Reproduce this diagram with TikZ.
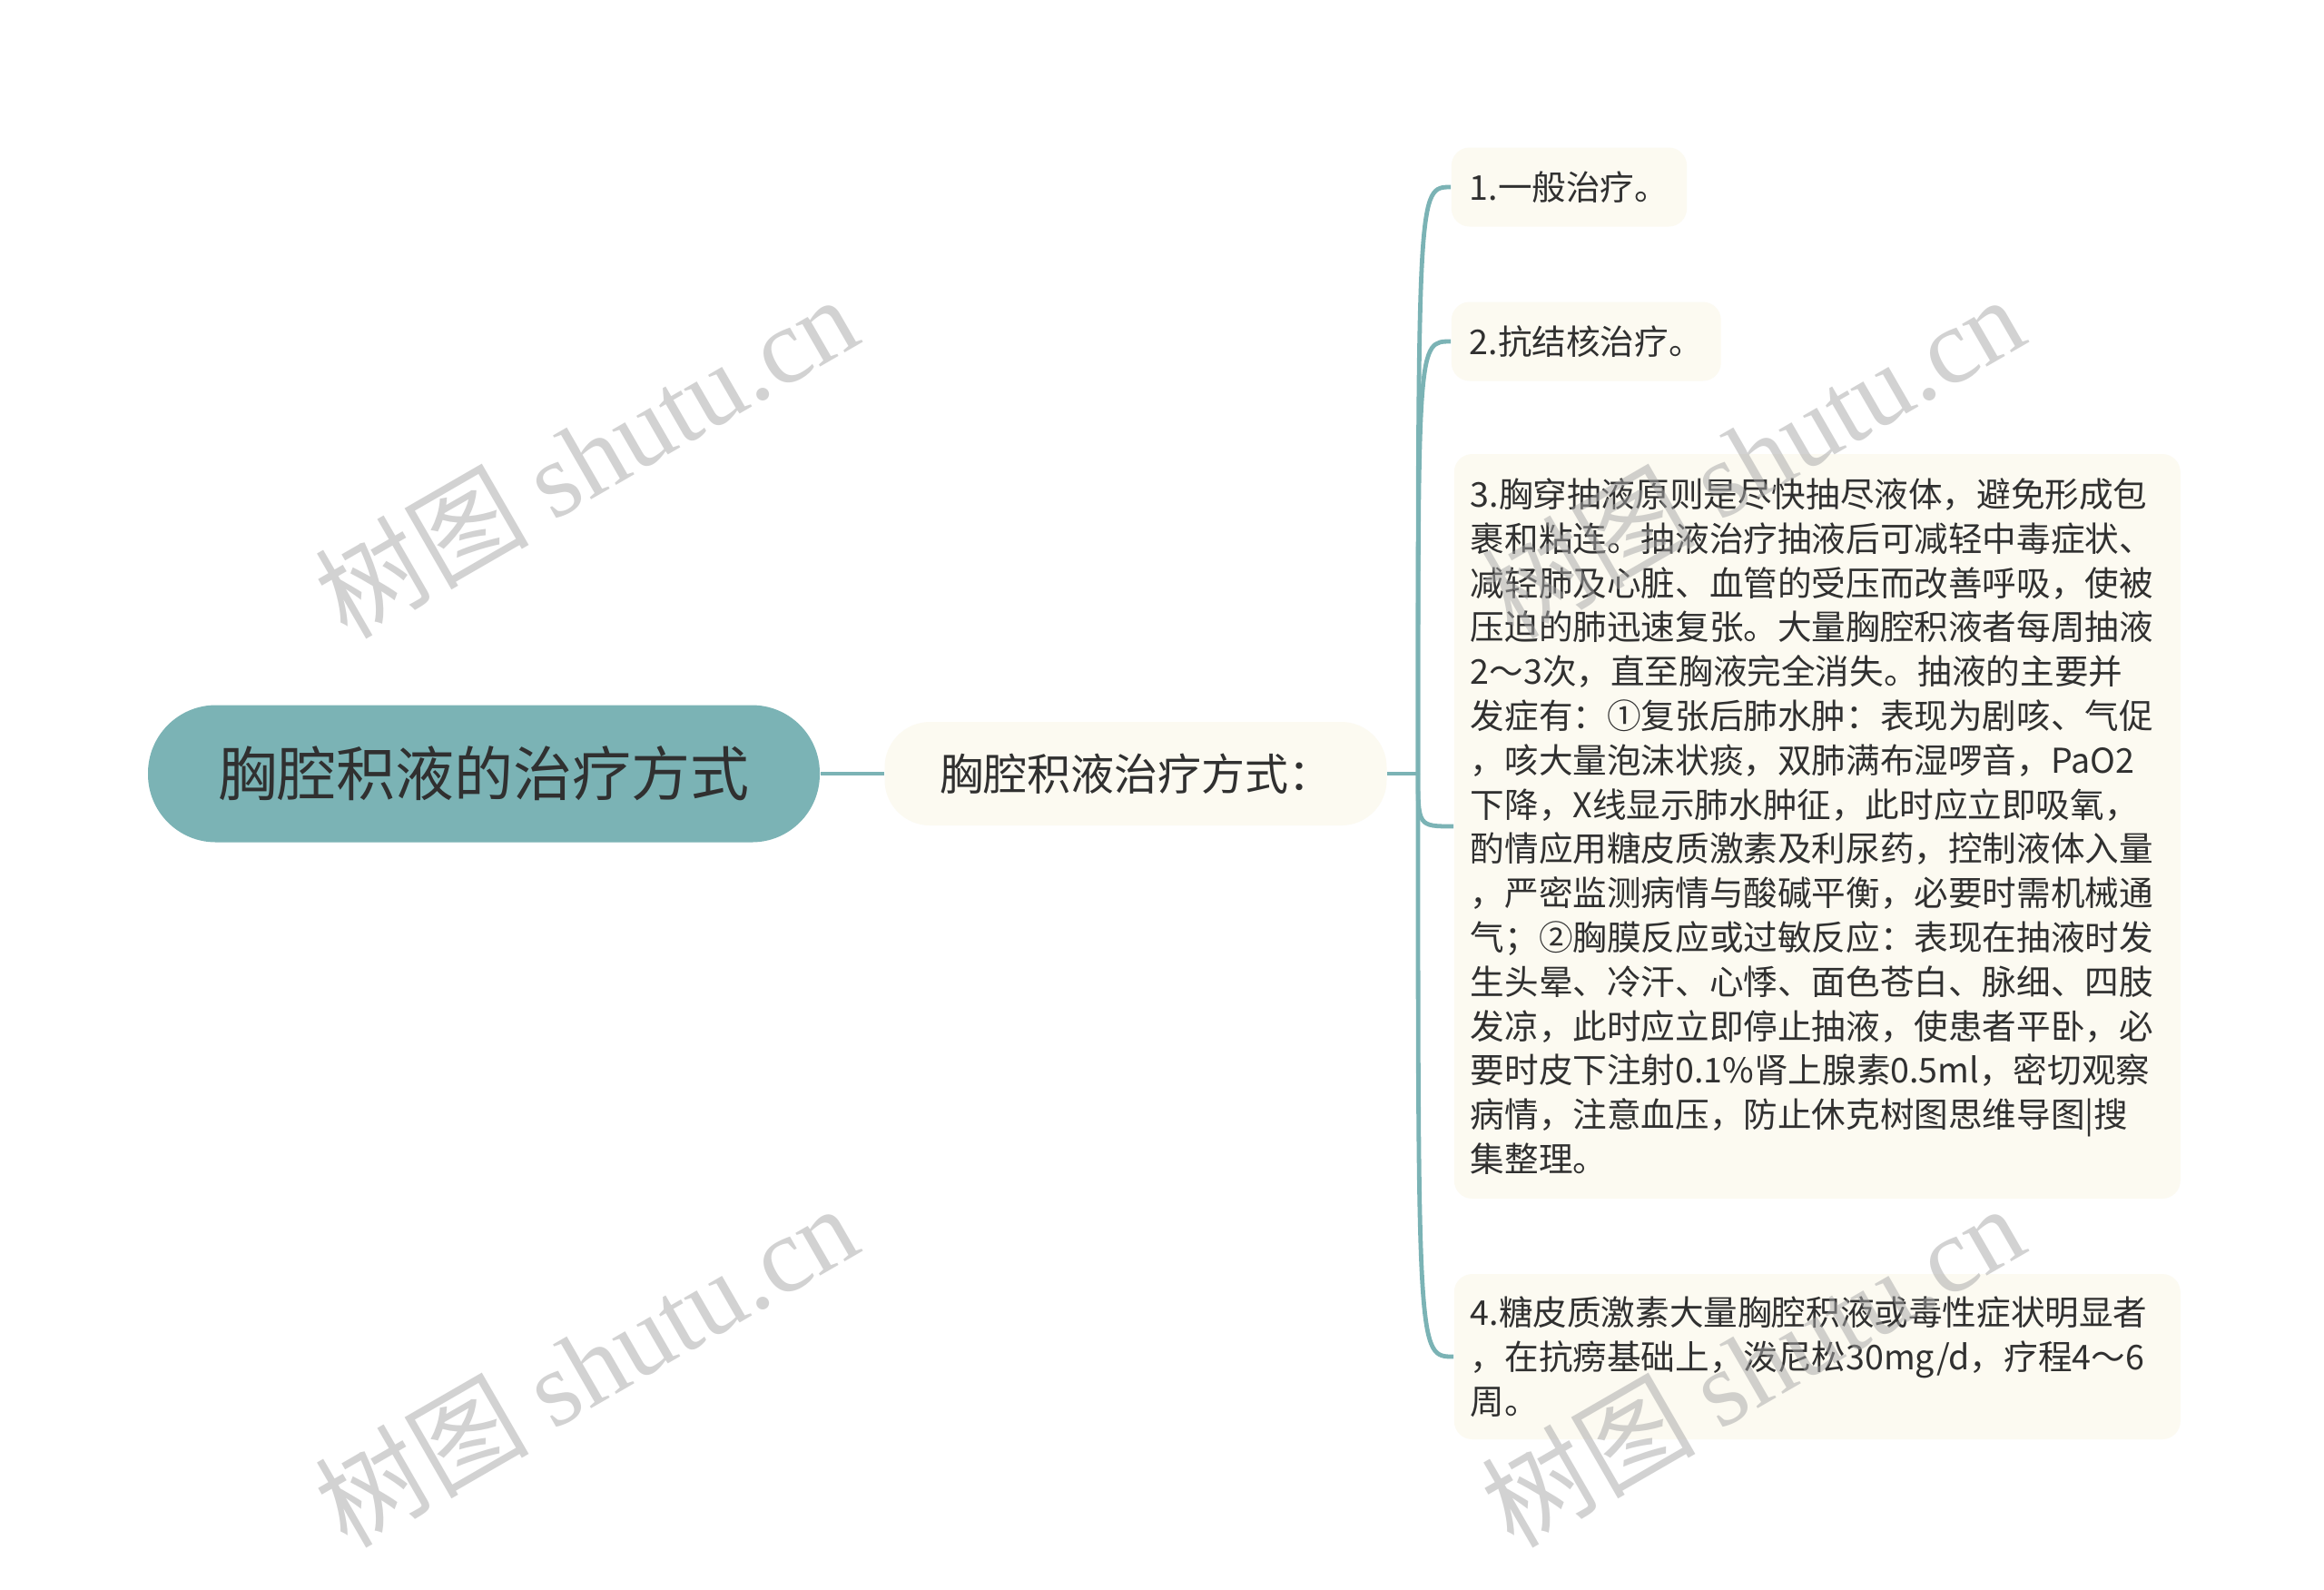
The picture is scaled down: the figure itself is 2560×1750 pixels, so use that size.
\documentclass[tikz,border=0pt]{standalone}
\usepackage{fontspec}
\setmainfont{Noto Sans CJK SC}
\newfontfamily\wmserif{Liberation Serif}
\definecolor{tealline}{HTML}{7BB3B5}
\definecolor{cream}{HTML}{FCFAF1}
\definecolor{ink}{HTML}{303030}

\begin{document}
\begin{tikzpicture}[x=0.25pt, y=-0.25pt,
  link/.style={draw=tealline, line width=1.2pt},
  rootbox/.style={fill=tealline, rounded corners=18.7pt, minimum width=185pt, minimum height=37.75pt, inner sep=0pt, text=ink, font=\fontsize{16.25pt}{20pt}\selectfont},
  midbox/.style={fill=cream, rounded corners=12.5pt, minimum width=138.25pt, minimum height=28.5pt, inner sep=0pt, text=ink, font=\fontsize{12pt}{14pt}\selectfont},
  leafbox/.style={fill=cream, rounded corners=5pt, inner xsep=5pt, inner ysep=0pt, minimum height=21.75pt, anchor=west, text=ink, align=left, font=\fontsize{9.4pt}{12.2pt}\selectfont},
  wmark/.style={text=black!35, opacity=.5, rotate=30, inner sep=0pt, font=\fontsize{29.5pt}{30pt}\selectfont}
]

\useasboundingbox [fill=white] (0,0) rectangle (2560,1750);

% main nodes
\node [rootbox] (root) at (533,852) {胸腔积液的治疗方式};
\node [midbox] (mid) at (1251,852) {胸腔积液治疗方式：};
\coordinate (fork) at (1562,852);

% leaves
\node [leafbox] (t1) at (1598,206) {1.一般治疗。};
\node [leafbox] (t2) at (1598,376) {2.抗结核治疗。};
\node [leafbox, inner xsep=4.5pt, text width=191pt, minimum height=205pt] (t3) at (1601,910) {3.胸穿抽液原则是尽快抽尽液体，避免形成包\\
裹和粘连。抽液治疗抽液后可减轻中毒症状、\\
减轻肺及心脏、血管的受压而改善呼吸，使被\\
压迫的肺迅速复张。大量胸腔积液者每周抽液\\
2～3次，直至胸液完全消失。抽液的主要并\\
发症有：①复张后肺水肿：表现为剧咳、气促\\
，咳大量泡沫状痰，双肺满布湿啰音，PaO2\\
下降，X线显示肺水肿征，此时应立即吸氧，\\
酌情应用糖皮质激素及利尿药，控制液体入量\\
，严密监测病情与酸碱平衡，必要时需机械通\\
气；②胸膜反应或过敏反应：表现在抽液时发\\
生头晕、冷汗、心悸、面色苍白、脉细、四肢\\
发凉，此时应立即停止抽液，使患者平卧，必\\
要时皮下注射0.1\%肾上腺素0.5ml，密切观察\\
病情，注意血压，防止休克树图思维导图|搜\\
集整理。};
\node [leafbox, inner xsep=4.5pt, text width=191pt, minimum height=45.5pt] (t4) at (1601,1494) {4.糖皮质激素大量胸腔积液或毒性症状明显者\\
，在抗痨基础上，泼尼松30mg/d，疗程4～6\\
周。};

% connectors
\draw [link] (root.east) -- (mid.west);
\draw [link] (mid.east) -- (fork);
\foreach \leaf in {t1,t2,t3,t4}
  \draw [link] (fork) .. controls (fork |- \leaf.west) .. (\leaf.west);

% watermarks
\node [wmark] (wm1) at (645,502) {树图 {\wmserif shutu.cn}};
\node [wmark] (wm2) at (1930,502) {树图 {\wmserif shutu.cn}};
\node [wmark] (wm3) at (645,1503) {树图 {\wmserif shutu.cn}};
\node [wmark] (wm4) at (1930,1503) {树图 {\wmserif shutu.cn}};

\end{tikzpicture}
\end{document}
